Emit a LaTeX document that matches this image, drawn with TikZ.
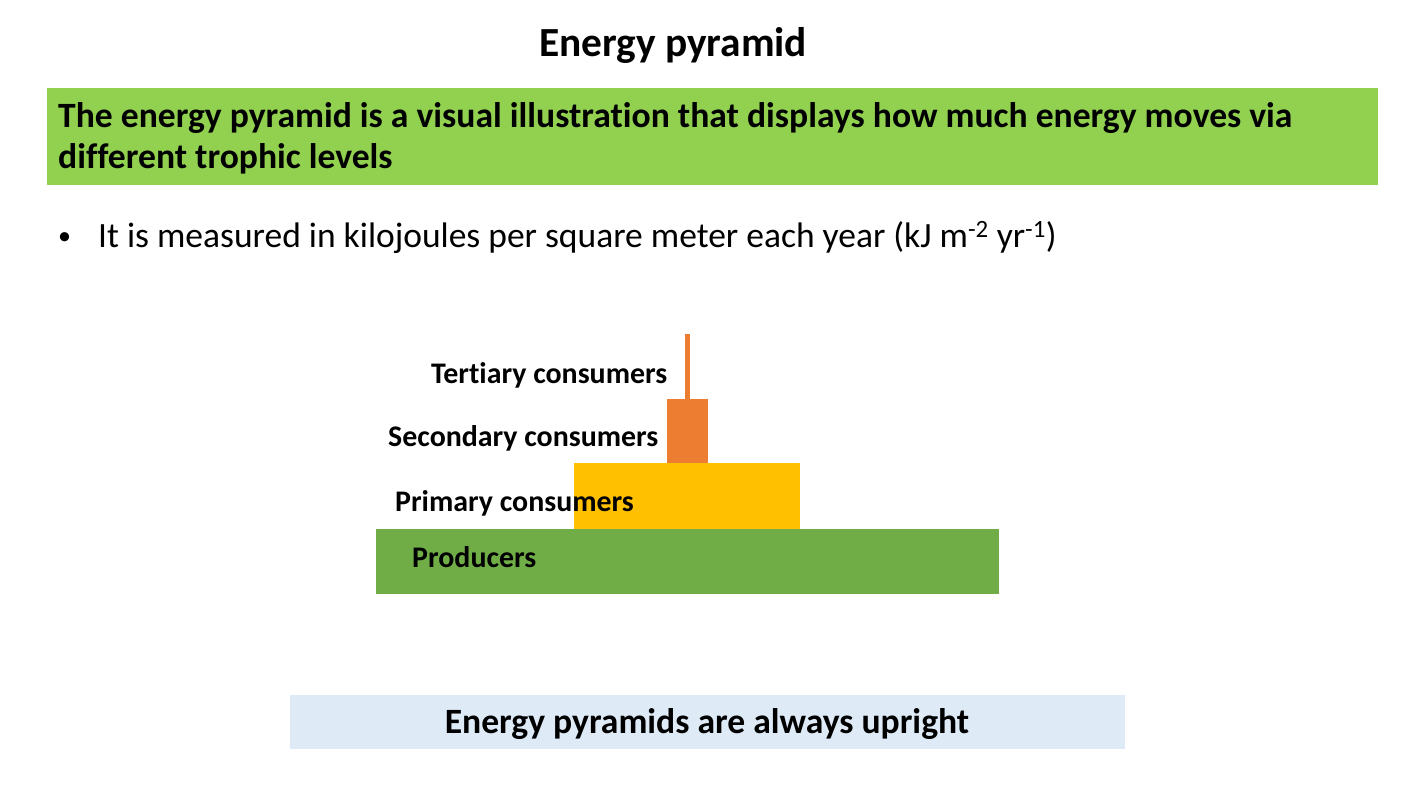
\documentclass[tikz,border=0pt]{standalone}
\usepackage{fontspec}
\setmainfont{Carlito}[Ligatures=NoCommon]
\definecolor{bannergreen}{HTML}{92D050}
\definecolor{prodgreen}{HTML}{70AD47}
\definecolor{primyellow}{HTML}{FFC000}
\definecolor{consorange}{HTML}{ED7D31}
\definecolor{notebox}{HTML}{DEEBF7}
\tikzset{
  lbl/.style={anchor=base west, inner sep=0pt, font=\fontsize{29.9}{34}\selectfont\bfseries},
  big/.style={inner sep=0pt, font=\fontsize{35.6}{41}\selectfont\bfseries},
}
\begin{document}
\begin{tikzpicture}[x=1pt,y=-1pt]
\useasboundingbox (0,0) rectangle (1427,803);
% title
\node[inner sep=0pt, font=\fontsize{41.4}{48}\selectfont\bfseries, anchor=base] (title) at (673,56) {Energy pyramid};
% banner
\fill[bannergreen] (47,88) rectangle (1378,185);
\node[big, anchor=base west, align=left] (def) at (58,168) {The energy pyramid is a visual illustration that displays how much energy moves via\\different trophic levels};
% bullet
\node[inner sep=0pt, anchor=base west, font=\fontsize{26}{30}\selectfont] (bul) at (58,244) {\textbullet};
\node[inner sep=0pt, anchor=base west, font=\fontsize{35.5}{41}\selectfont] (meas) at (98,247) {It is measured in kilojoules per square meter each year (kJ m\textsuperscript{-2} yr\textsuperscript{-1})};
% pyramid
\fill[prodgreen] (376,529) rectangle (999,594);
\fill[primyellow] (574,463) rectangle (800,529);
\fill[consorange] (667,399) rectangle (708,463);
\fill[consorange] (685,334) rectangle (690,399);
\node[lbl] (tert) at (431,383) {Tertiary consumers};
\node[lbl] (sec) at (388,446) {Secondary consumers};
\node[lbl] (prim) at (395,511) {Primary consumers};
\node[lbl] (prod) at (412,567) {Producers};
% bottom box
\fill[notebox] (290,695) rectangle (1125,749);
\node[big, anchor=base] (upright) at (707,733) {Energy pyramids are always upright};
\end{tikzpicture}
\end{document}
